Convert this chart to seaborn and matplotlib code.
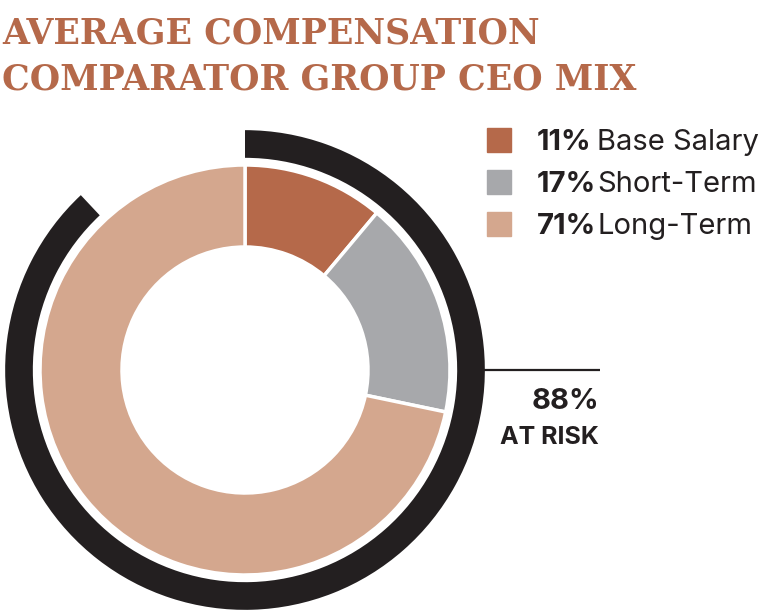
import matplotlib
matplotlib.use("Agg")
import matplotlib.pyplot as plt
from matplotlib.patches import Rectangle
import seaborn as sns

# Chart data
categories = ["Base Salary", "Short-Term", "Long-Term"]
shares = [11, 17, 71]
at_risk = 88
colors = ["#B5694A", "#A7A8AB", "#D4A78E"]
title_lines = ["AVERAGE COMPENSATION", "COMPARATOR GROUP CEO MIX"]

sns.set_theme(style="white")
plt.rcParams['font.family'] = ['Inter', 'DejaVu Sans']

W, H = 763, 614
fig = plt.figure(figsize=(W / 100, H / 100), dpi=100)

def fx(px):
    return px / W

def fy(py):
    return 1 - py / H

# donut axes: centre at (245, 370) px, 1 data unit = 205 px
cx, cy, unit, lim = 245, 370, 205, 1.18
side = 2 * lim * unit
ax = fig.add_axes([fx(cx - side / 2), fy(cy + side / 2), side / W, side / H])

ax.pie(shares, colors=colors, startangle=90, counterclock=False, radius=1.0,
       wedgeprops=dict(width=0.40, edgecolor="white", linewidth=2.5))

# outer "at risk" ring
ax.pie([at_risk, 100 - at_risk], colors=["#231F20", "none"], startangle=90,
       counterclock=False, radius=1.17, wedgeprops=dict(width=0.135, linewidth=0))

ax.set_xlim(-lim, lim)
ax.set_ylim(-lim, lim)
ax.set_aspect("equal")
ax.axis("off")

ax.plot([1.165, (600 - cx) / unit], [0, 0], color="#231F20", lw=1.6,
        clip_on=False, solid_capstyle="butt")

# title
title_color = "#B5694A"
for i, line in enumerate(title_lines):
    fig.text(fx(2), fy(43 + i * 47), line, color=title_color, fontsize=25,
             fontweight="bold", family=["DejaVu Serif"],
             va="baseline", ha="left")

# legend
rows_y = [140, 182, 224]
for name, val, col, ry in zip(categories, shares, colors, rows_y):
    fig.patches.append(Rectangle((fx(487), fy(ry + 12)), 24 / W, 24 / H,
                                 transform=fig.transFigure, color=col))
    fig.text(fx(537), fy(ry), f"{val}%", fontsize=21, fontweight="bold",
             color="#231F20", va="center_baseline", ha="left")
    fig.text(fx(597), fy(ry), name, fontsize=21, color="#231F20",
             va="center_baseline", ha="left")

fig.text(fx(599), fy(409), f"{at_risk}%", fontsize=21, fontweight="bold",
         color="#231F20", ha="right", va="baseline")
fig.text(fx(599), fy(444), "AT RISK", fontsize=18, fontweight="bold",
         color="#231F20", ha="right", va="baseline")

fig.savefig("out.png", dpi=100, facecolor="white")
